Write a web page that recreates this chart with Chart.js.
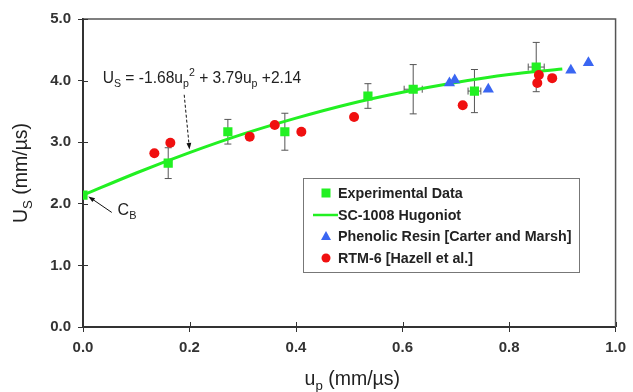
<!DOCTYPE html>
<html>
<head>
<meta charset="utf-8">
<script src="https://cdn.jsdelivr.net/npm/chart.js@4.4.1/dist/chart.umd.min.js"></script>
<style>
  html, body { margin: 0; padding: 0; background: #fff; }
  #wrap { width: 633px; height: 392px; position: relative; }
</style>
</head>
<body>
<div id="wrap"><canvas id="c" width="633" height="392"></canvas></div>
<script>
// ---- Data ----
const xTicks = [0.0, 0.2, 0.4, 0.6, 0.8, 1.0];
const yTicks = [0.0, 1.0, 2.0, 3.0, 4.0, 5.0];

// Experimental data (green squares) with error bars
const expX    = [0.0, 0.16, 0.272, 0.379, 0.535, 0.62, 0.735, 0.851];
const expY    = [2.14, 2.66, 3.17, 3.17, 3.75, 3.86, 3.83, 4.22];
const expYErr = [0, 0.25, 0.2, 0.3, 0.2, 0.4, 0.35, 0.4];
const expXErr = [0, 0, 0, 0, 0, 0.017, 0.012, 0.015];

// SC-1008 Hugoniot curve
const hugX = [0.0, 0.1, 0.2, 0.3, 0.4, 0.5, 0.6, 0.7, 0.8, 0.9];
const hugY = [2.14, 2.50, 2.83, 3.13, 3.39, 3.62, 3.81, 3.97, 4.10, 4.19];

// Phenolic Resin [Carter and Marsh] (blue triangles)
const phenX = [0.688, 0.698, 0.761, 0.916, 0.949];
const phenY = [3.96, 4.01, 3.86, 4.17, 4.29];

// RTM-6 [Hazell et al.] (red circles)
const rtmX = [0.134, 0.164, 0.313, 0.36, 0.41, 0.509, 0.713, 0.856, 0.853, 0.881];
const rtmY = [2.82, 2.99, 3.09, 3.28, 3.17, 3.41, 3.60, 4.09, 3.96, 4.04];

const labels = ['Experimental Data', 'SC-1008 Hugoniot', 'Phenolic Resin [Carter and Marsh]', 'RTM-6 [Hazell et al.]'];

const GREEN = '#22f022';
const BLUE = '#3a66f2';
const RED = '#f01010';
const AXIS = '#333333';

const zip = (xs, ys) => xs.map((x, i) => ({ x, y: ys[i] }));

// text runs: [text, mode] mode: 'n' normal, 'sub', 'sup'
function drawRuns(ctx, runs, x, y, size, weight, align) {
  const measure = () => {
    let w = 0;
    for (const [t, m] of runs) {
      const s = m === 'n' ? size : size * 0.68;
      ctx.font = `${weight} ${s}px "Liberation Sans", Arial, sans-serif`;
      w += ctx.measureText(t).width;
    }
    return w;
  };
  let cx = x;
  if (align === 'center') cx = x - measure() / 2;
  ctx.textBaseline = 'alphabetic';
  ctx.textAlign = 'left';
  for (const [t, m] of runs) {
    const s = m === 'n' ? size : size * 0.68;
    ctx.font = `${weight} ${s}px "Liberation Sans", Arial, sans-serif`;
    let dy = 0;
    if (m === 'sub') dy = size * 0.25;
    if (m === 'sup') dy = -size * 0.45;
    ctx.fillText(t, cx, y + dy);
    cx += ctx.measureText(t).width;
  }
}

function arrow(ctx, x1, y1, x2, y2, dashed) {
  ctx.save();
  ctx.strokeStyle = '#111';
  ctx.fillStyle = '#111';
  ctx.lineWidth = 1;
  if (dashed) ctx.setLineDash([3, 2]);
  const ang = Math.atan2(y2 - y1, x2 - x1);
  const hl = 7;
  ctx.beginPath();
  ctx.moveTo(x1, y1);
  ctx.lineTo(x2 - Math.cos(ang) * hl * 0.8, y2 - Math.sin(ang) * hl * 0.8);
  ctx.stroke();
  ctx.setLineDash([]);
  ctx.beginPath();
  ctx.moveTo(x2, y2);
  ctx.lineTo(x2 - hl * Math.cos(ang - 0.35), y2 - hl * Math.sin(ang - 0.35));
  ctx.lineTo(x2 - hl * Math.cos(ang + 0.35), y2 - hl * Math.sin(ang + 0.35));
  ctx.closePath();
  ctx.fill();
  ctx.restore();
}

const decor = {
  id: 'decor',
  beforeDatasetsDraw(chart) {
    const { ctx, chartArea: a, scales: { x, y } } = chart;
    ctx.save();
    // frame (top, right)
    ctx.strokeStyle = '#555';
    ctx.lineWidth = 1.5;
    ctx.beginPath();
    ctx.moveTo(a.left, a.top);
    ctx.lineTo(a.right, a.top);
    ctx.lineTo(a.right, a.bottom);
    ctx.stroke();
    // inner tick halves
    ctx.strokeStyle = AXIS;
    ctx.lineWidth = 1;
    ctx.beginPath();
    for (const v of xTicks) {
      const px = Math.round(x.getPixelForValue(v)) + 0.5;
      ctx.moveTo(px, a.bottom);
      ctx.lineTo(px, a.bottom - 5);
    }
    for (const v of yTicks) {
      const py = Math.round(y.getPixelForValue(v)) + 0.5;
      ctx.moveTo(a.left, py);
      ctx.lineTo(a.left + 5, py);
    }
    ctx.stroke();
    // error bars
    ctx.strokeStyle = '#555';
    ctx.lineWidth = 1;
    ctx.beginPath();
    expX.forEach((vx, i) => {
      const px = x.getPixelForValue(vx);
      const py = y.getPixelForValue(expY[i]);
      if (expYErr[i] > 0) {
        const t = y.getPixelForValue(expY[i] + expYErr[i]);
        const b = y.getPixelForValue(expY[i] - expYErr[i]);
        ctx.moveTo(px, t); ctx.lineTo(px, b);
        ctx.moveTo(px - 3.5, t); ctx.lineTo(px + 3.5, t);
        ctx.moveTo(px - 3.5, b); ctx.lineTo(px + 3.5, b);
      }
      if (expXErr[i] > 0) {
        const l = x.getPixelForValue(vx - expXErr[i]);
        const r = x.getPixelForValue(vx + expXErr[i]);
        ctx.moveTo(l, py); ctx.lineTo(r, py);
        ctx.moveTo(l, py - 3.5); ctx.lineTo(l, py + 3.5);
        ctx.moveTo(r, py - 3.5); ctx.lineTo(r, py + 3.5);
      }
    });
    ctx.stroke();
    ctx.restore();
  },
  afterDraw(chart) {
    const { ctx, chartArea: a, scales: { x, y } } = chart;
    ctx.save();
    ctx.fillStyle = '#222';
    // axis titles
    drawRuns(ctx, [['u', 'n'], ['p', 'sub'], [' (mm/\u00b5s)', 'n']], (a.left + a.right) / 2 + 3, 385, 19.5, 'normal', 'center');
    ctx.save();
    ctx.translate(27, (a.top + a.bottom) / 2);
    ctx.rotate(-Math.PI / 2);
    drawRuns(ctx, [['U', 'n'], ['S', 'sub'], [' (mm/\u00b5s)', 'n']], 0, 0, 19.5, 'normal', 'center');
    ctx.restore();

    // equation annotation
    drawRuns(ctx, [['U', 'n'], ['S', 'sub'], [' = -1.68u', 'n'], ['p', 'sub'], ['2', 'sup'], [' + 3.79u', 'n'], ['p', 'sub'], [' +2.14', 'n']],
      x.getPixelForValue(0.037), y.getPixelForValue(3.96), 15.6, 'normal', 'left');
    arrow(ctx, x.getPixelForValue(0.19), y.getPixelForValue(3.77), x.getPixelForValue(0.2), y.getPixelForValue(2.88), true);

    // C_B annotation
    arrow(ctx, x.getPixelForValue(0.054), y.getPixelForValue(1.86), x.getPixelForValue(0.01), y.getPixelForValue(2.12), false);
    drawRuns(ctx, [['C', 'n'], ['B', 'sub']], x.getPixelForValue(0.065), y.getPixelForValue(1.82), 16, 'normal', 'left');

    // legend
    const lx = 303, ly = 178, lw = 276, lh = 94;
    ctx.fillStyle = '#fff';
    ctx.fillRect(lx, ly, lw, lh);
    ctx.strokeStyle = '#777';
    ctx.lineWidth = 1;
    ctx.strokeRect(lx + 0.5, ly + 0.5, lw, lh);
    const rows = [193, 215, 236, 258];
    const mx = 326, tx = 338;
    // square
    ctx.fillStyle = GREEN;
    ctx.fillRect(mx - 4.5, rows[0] - 4.5, 9, 9);
    // line
    ctx.strokeStyle = GREEN;
    ctx.lineWidth = 2.5;
    ctx.beginPath(); ctx.moveTo(313, rows[1]); ctx.lineTo(338, rows[1]); ctx.stroke();
    // triangle
    ctx.fillStyle = BLUE;
    ctx.beginPath();
    ctx.moveTo(mx, rows[2] - 5); ctx.lineTo(mx + 5, rows[2] + 4); ctx.lineTo(mx - 5, rows[2] + 4); ctx.closePath(); ctx.fill();
    // circle
    ctx.fillStyle = RED;
    ctx.beginPath(); ctx.arc(mx, rows[3], 4.5, 0, Math.PI * 2); ctx.fill();
    ctx.fillStyle = '#222';
    ctx.font = 'bold 14.3px "Liberation Sans", Arial, sans-serif';
    ctx.textBaseline = 'middle';
    ctx.textAlign = 'left';
    labels.forEach((t, i) => ctx.fillText(t, tx, rows[i] + 1));
    ctx.restore();
  }
};

new Chart(document.getElementById('c'), {
  type: 'scatter',
  data: {
    datasets: [
      { label: labels[0], data: zip(expX, expY), pointStyle: 'rect', pointRadius: 6.5, pointHoverRadius: 6.5,
        backgroundColor: GREEN, borderColor: GREEN, borderWidth: 0, order: 1 },
      { label: labels[1], data: zip(hugX, hugY), type: 'line', showLine: true, pointRadius: 0, borderColor: GREEN,
        borderWidth: 3, cubicInterpolationMode: 'monotone', fill: false, order: 3 },
      { label: labels[2], data: zip(phenX, phenY), pointStyle: 'triangle', pointRadius: 6.5, pointHoverRadius: 6.5,
        backgroundColor: BLUE, borderColor: BLUE, borderWidth: 0, order: 2 },
      { label: labels[3], data: zip(rtmX, rtmY), pointStyle: 'circle', pointRadius: 5, pointHoverRadius: 5,
        backgroundColor: RED, borderColor: RED, borderWidth: 0, order: 0 }
    ]
  },
  options: {
    responsive: false,
    animation: false,
    events: [],
    layout: { padding: { top: 19, right: 14, left: 0, bottom: 0 } },
    plugins: { legend: { display: false }, tooltip: { enabled: false } },
    scales: {
      x: {
        type: 'linear', min: 0, max: 1,
        afterBuildTicks: s => { s.ticks = xTicks.map(v => ({ value: v })); },
        afterFit: s => { s.height = 65; },
        ticks: { callback: v => v.toFixed(1), color: AXIS, padding: 7,
                 font: { size: 15, weight: 'bold', family: '"Liberation Sans", Arial, sans-serif' } },
        grid: { display: true, drawOnChartArea: false, drawTicks: true, tickLength: 5, color: AXIS },
        border: { display: true, color: AXIS, width: 2 }
      },
      y: {
        type: 'linear', min: 0, max: 5,
        afterBuildTicks: s => { s.ticks = yTicks.map(v => ({ value: v })); },
        afterFit: s => { s.width = 83; },
        ticks: { callback: v => v.toFixed(1), color: AXIS, padding: 7,
                 font: { size: 15, weight: 'bold', family: '"Liberation Sans", Arial, sans-serif' } },
        grid: { display: true, drawOnChartArea: false, drawTicks: true, tickLength: 5, color: AXIS },
        border: { display: true, color: AXIS, width: 2 }
      }
    }
  },
  plugins: [decor]
});
</script>
</body>
</html>
